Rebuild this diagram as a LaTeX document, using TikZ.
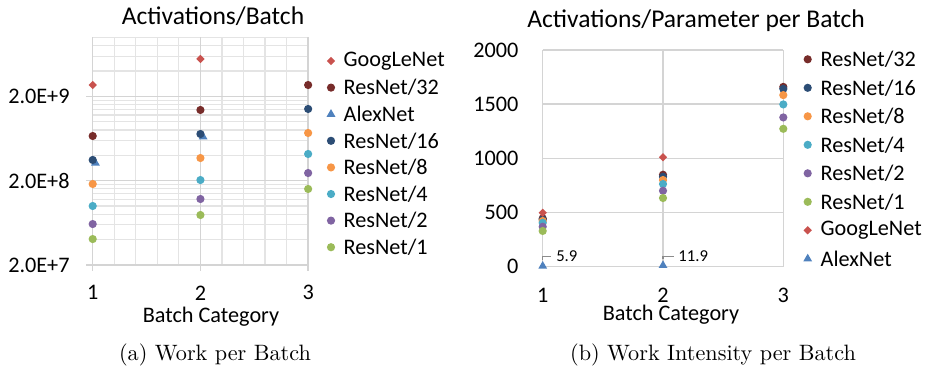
\documentclass[tikz,border=0pt]{standalone}
\usepackage{fontspec}
\newfontfamily\calib{Carlito}
\usetikzlibrary{shapes.geometric}
\definecolor{googred}{HTML}{C9524E}
\definecolor{darkred}{HTML}{772C2A}
\definecolor{alexblue}{HTML}{4F81BD}
\definecolor{darkblue}{HTML}{2C4D75}
\definecolor{resorange}{HTML}{F79646}
\definecolor{aqua}{HTML}{4BACC6}
\definecolor{violet}{HTML}{8064A2}
\definecolor{lime}{HTML}{9BBB59}
\definecolor{gridgray}{HTML}{D4D4D4}
\definecolor{minorgray}{HTML}{E4E4E4}

\begin{document}
\begin{tikzpicture}[x=0.45pt,y=-0.45pt,
  chart/.style={font=\calib\fontsize{10}{12}\selectfont,inner sep=1pt},
  tick/.style={font=\calib\fontsize{10}{12}\selectfont,inner sep=0pt},
  title/.style={font=\calib\fontsize{11.5}{14}\selectfont,inner sep=1pt},
  caption/.style={font=\fontsize{10}{12}\selectfont,inner sep=1pt},
  major/.style={draw=gridgray,line width=0.7pt},
  minor/.style={draw=minorgray,line width=0.55pt},
  ball/.style={circle,inner sep=0pt,minimum size=3.7pt,fill=#1},
  gem/.style={diamond,inner sep=0pt,minimum size=3.9pt,fill=googred},
  tri/.style={regular polygon,regular polygon sides=3,inner sep=0pt,minimum size=4.6pt,fill=alexblue},
  lbl/.style={font=\calib\fontsize{7.5}{9}\selectfont,inner sep=0.5pt},
  leader/.style={draw=black!45,line width=0.5pt,shorten >=1.5pt}]
\useasboundingbox (0,0) rectangle (925,377);

% (a) work per batch, log axis in decades above 2.0E+7
\begin{scope}[shift={(-15,265)},x=48.47pt,y=37.94pt]
\foreach \k in {1.2,1.4,1.6,1.8,2.2,2.4,2.6,2.8}
  \draw[minor] (\k,0) -- (\k,2.7);
\foreach \d in {0,1,2}
  \foreach \m in {2,...,9} {
    \pgfmathsetmacro\yy{\d+log10(\m)}
    \ifdim\yy pt<2.71pt \draw[minor] (1,\yy) -- (3,\yy); \fi
  }
\foreach \d in {0,1,2}
  \draw[major] (0.94,\d) -- (3,\d);
\foreach \k in {1,2,3}
  \draw[major] (\k,-0.07) -- (\k,2.7);
\node[chart,anchor=east] (ya7) at (0.81,0) {2.0E+7};
\node[chart,anchor=east] (ya8) at (0.81,1) {2.0E+8};
\node[chart,anchor=east] (ya9) at (0.81,2) {2.0E+9};
\node[tick] (xa1) at (1,-0.33) {1};
\node[tick] (xa2) at (2,-0.33) {2};
\node[tick] (xa3) at (3,-0.33) {3};
% GoogLeNet
\node[gem] (ag1) at (1,2.135) {};
\node[gem] (ag2) at (2,2.444) {};
% ResNet/32
\node[ball=darkred] (a32a) at (1,1.530) {};
\node[ball=darkred] (a32b) at (2,1.839) {};
\node[ball=darkred] (a32c) at (3,2.135) {};
% AlexNet
\node[tri] (aax1) at (1.025,1.21) {};
\node[tri] (aax2) at (2.025,1.52) {};
% ResNet/16
\node[ball=darkblue] (a16a) at (1,1.246) {};
\node[ball=darkblue] (a16b) at (2,1.554) {};
\node[ball=darkblue] (a16c) at (3,1.851) {};
% ResNet/8
\node[ball=resorange] (a8a) at (1,0.961) {};
\node[ball=resorange] (a8b) at (2,1.269) {};
\node[ball=resorange] (a8c) at (3,1.566) {};
% ResNet/4
\node[ball=aqua] (a4a) at (1,0.700) {};
\node[ball=aqua] (a4b) at (2,1.008) {};
\node[ball=aqua] (a4c) at (3,1.317) {};
% ResNet/2
\node[ball=violet] (a2a) at (1,0.486) {};
\node[ball=violet] (a2b) at (2,0.783) {};
\node[ball=violet] (a2c) at (3,1.091) {};
% ResNet/1
\node[ball=lime] (a1a) at (1,0.308) {};
\node[ball=lime] (a1b) at (2,0.593) {};
\node[ball=lime] (a1c) at (3,0.902) {};
\end{scope}

\node[title] (atitle) at (213,16) {Activations/Batch};
\node[tick] (axlabel) at (211,317) {Batch Category};
\node[gem] (lmg) at (331,61) {};
\node[chart,anchor=west] (ltg) at (341,61) {GoogLeNet};
\node[ball=darkred] (lm32) at (331,87.6) {};
\node[chart,anchor=west] (lt32) at (341,87.6) {ResNet/32};
\node[tri] (lmax) at (331,114.2) {};
\node[chart,anchor=west] (ltax) at (341,114.2) {AlexNet};
\node[ball=darkblue] (lm16) at (331,140.8) {};
\node[chart,anchor=west] (lt16) at (341,140.8) {ResNet/16};
\node[ball=resorange] (lm8) at (331,167.4) {};
\node[chart,anchor=west] (lt8) at (341,167.4) {ResNet/8};
\node[ball=aqua] (lm4) at (331,194) {};
\node[chart,anchor=west] (lt4) at (341,194) {ResNet/4};
\node[ball=violet] (lm2) at (331,220.6) {};
\node[chart,anchor=west] (lt2) at (341,220.6) {ResNet/2};
\node[ball=lime] (lm1) at (331,247.2) {};
\node[chart,anchor=west] (lt1) at (341,247.2) {ResNet/1};

% (b) work intensity per batch
\begin{scope}[shift={(422.4,266.7)},x=54.135pt,y=0.048758pt]
\foreach \v in {0,500,...,2000}
  \draw[major] (1,\v) -- (3,\v);
\foreach \k in {1,2,3}
  \draw[major] (\k,0) -- (\k,2000);
\foreach \v in {0,500,...,2000}
  \node[chart,anchor=east] (yb\v) at (0.82,\v) {\v};
\node[tick] (xb1) at (1,-260) {1};
\node[tick] (xb2) at (2,-260) {2};
\node[tick] (xb3) at (3,-260) {3};
% ResNet/32
\node[ball=darkred] (b32a) at (1,446) {};
\node[ball=darkred] (b32b) at (2,849) {};
\node[ball=darkred] (b32c) at (3,1660) {};
% ResNet/16
\node[ball=darkblue] (b16a) at (1,435) {};
\node[ball=darkblue] (b16b) at (2,830) {};
\node[ball=darkblue] (b16c) at (3,1642) {};
% ResNet/8
\node[ball=resorange] (b8a) at (1,422) {};
\node[ball=resorange] (b8b) at (2,800) {};
\node[ball=resorange] (b8c) at (3,1584) {};
% ResNet/4
\node[ball=aqua] (b4a) at (1,405) {};
\node[ball=aqua] (b4b) at (2,763) {};
\node[ball=aqua] (b4c) at (3,1498) {};
% ResNet/2
\node[ball=violet] (b2a) at (1,369) {};
\node[ball=violet] (b2b) at (2,701) {};
\node[ball=violet] (b2c) at (3,1378) {};
% ResNet/1
\node[ball=lime] (b1a) at (1,330) {};
\node[ball=lime] (b1b) at (2,634) {};
\node[ball=lime] (b1c) at (3,1273) {};
% GoogLeNet
\node[gem] (bg1) at (1,498) {};
\node[gem] (bg2) at (2,1010) {};
% AlexNet, with labels
\node[tri] (bax1) at (1,5.9) {};
\node[tri] (bax2) at (2,11.9) {};
\node[lbl,anchor=west] (bl1) at (1.1,94) {5.9};
\node[lbl,anchor=west] (bl2) at (2.115,98) {11.9};
\draw[leader] (bax1.north) |- (bl1.west);
\draw[leader] (bax2.north) |- (bl2.west);
\end{scope}

\node[title] (btitle) at (696,20.5) {Activations/Parameter per Batch};
\node[tick] (bxlabel) at (671,315) {Batch Category};
\node[ball=darkred] (rm32) at (807.7,59.3) {};
\node[chart,anchor=west] (rt32) at (818,59.3) {ResNet/32};
\node[ball=darkblue] (rm16) at (807.7,87.8) {};
\node[chart,anchor=west] (rt16) at (818,87.8) {ResNet/16};
\node[ball=resorange] (rm8) at (807.7,116.3) {};
\node[chart,anchor=west] (rt8) at (818,116.3) {ResNet/8};
\node[ball=aqua] (rm4) at (807.7,144.8) {};
\node[chart,anchor=west] (rt4) at (818,144.8) {ResNet/4};
\node[ball=violet] (rm2) at (807.7,173.3) {};
\node[chart,anchor=west] (rt2) at (818,173.3) {ResNet/2};
\node[ball=lime] (rm1) at (807.7,201.8) {};
\node[chart,anchor=west] (rt1) at (818,201.8) {ResNet/1};
\node[gem] (rmg) at (807.7,230.3) {};
\node[chart,anchor=west] (rtg) at (818,230.3) {GoogLeNet};
\node[tri] (rmax) at (807.7,258.8) {};
\node[chart,anchor=west] (rtax) at (818,258.8) {AlexNet};

\node[caption] (capa) at (215,355) {(a) Work per Batch};
\node[caption] (capb) at (713,355) {(b) Work Intensity per Batch};
\end{tikzpicture}
\end{document}
